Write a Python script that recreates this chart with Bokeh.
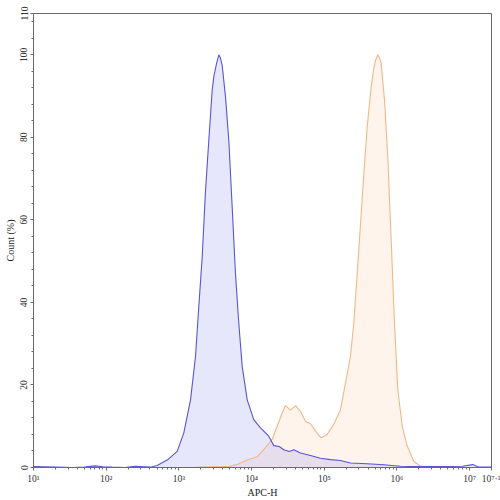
from bokeh.plotting import figure
from bokeh.models import FixedTicker, CustomJSTickFormatter, Range1d
from bokeh.embed import file_html
from bokeh.resources import INLINE

# APC-H intensity (x) and Count (%) for the two histograms
blue_x = [10, 20, 35, 50, 70, 90, 120, 180, 250, 330, 420, 502, 690, 948, 1168,
          1445, 1692, 1879, 2091, 2322, 2579, 2870, 3040, 3289, 3538, 3730, 3942,
          4377, 4858, 5404, 6000, 6663, 7425, 8700, 10720, 13250, 17250, 20200,
          24000, 27700, 33000, 38000, 47100, 64600, 88700, 121700, 167000, 229000,
          389000, 658000, 1117000, 1900000, 4000000, 8000000, 11000000, 13000000,
          16000000, 19950000]
blue_y = [0.2, 0.1, 0.0, 0.1, 0.4, 0.2, 0.1, 0.0, 0.3, 0.2, 0.1, 0.5, 1.8, 3.9, 8.4,
          16.4, 26.9, 39, 51, 67, 79.3, 91.4, 95.0, 97.8, 100, 99.2, 97.4,
          89.8, 79.3, 63.2, 47, 35, 24.5, 16.4, 11.6, 9.6, 7.6, 5.3,
          5.1, 4.3, 3.9, 4.3, 3.5, 2.9, 2.25, 1.9, 1.7, 1.1,
          0.9, 0.65, 0.3, 0.2, 0.2, 0.3, 0.7, 0.2,
          0.1, 0.1]

orange_x = [10, 1500, 2450, 4610, 6340, 8700, 11940, 15530, 19200, 22500, 26350,
            29250, 34300, 40200, 47100, 55100, 64600, 75700, 90600, 109600,
            135200, 167000, 195800, 229000, 254500, 283600, 315000, 349500,
            389000, 441500, 475000, 505800, 544500, 574000, 606500, 673500,
            747000, 832000, 924000, 1026000, 1180000, 1382000, 1703000, 2104000,
            2600000, 19950000]
orange_y = [0, 0, 0.15, 0.2, 0.7, 1.8, 2.6, 4.8, 6.8, 10, 13.2,
            15, 13.9, 15, 13.6, 11.2, 10.6, 8.8, 7.2, 8,
            10.5, 14, 20.5, 26.9, 35, 47, 59, 71,
            82.5, 92.2, 96.3, 98.6, 100, 99.3, 97.8, 89,
            75.3, 55, 35, 18.9, 10, 5.2, 1.5, 0.3,
            0, 0]

x_major = [1e1, 1e2, 1e3, 1e4, 1e5, 1e6, 1e7, 10 ** 7.3]
x_minor = [k * 10 ** d for d in range(1, 7) for k in range(2, 10)]
y_major = [0, 20, 40, 60, 80, 100, 110]
y_minor = [v for v in range(4, 110, 4) if v not in y_major]

FONT = "Liberation Serif"

p = figure(width=500, height=500, x_axis_type="log",
           x_range=Range1d(10, 10 ** 7.3), y_range=Range1d(0, 110),
           output_backend="svg", toolbar_location=None,
           min_border_left=33, min_border_right=9, min_border_top=13,
           min_border_bottom=32)

p.xgrid.visible = False
p.ygrid.visible = False
p.outline_line_color = "#6a6a6a"
p.outline_line_width = 1
p.background_fill_color = "white"
p.border_fill_color = "white"

# fills
p.varea(x=orange_x, y1=0, y2=orange_y, fill_color="#f5a860", fill_alpha=0.12)
p.varea(x=blue_x, y1=0, y2=blue_y, fill_color="#7070f0", fill_alpha=0.17)
# lines
p.line(orange_x, orange_y, line_color="#f0b888", line_width=1.1)
p.line(blue_x, blue_y, line_color="#5555d6", line_width=1.1)

p.xaxis.ticker = FixedTicker(ticks=x_major, minor_ticks=x_minor)
p.xaxis.formatter = CustomJSTickFormatter(code="""
const sup = {"0":"\u2070","1":"\u00b9","2":"\u00b2","3":"\u00b3","4":"\u2074",
             "5":"\u2075","6":"\u2076","7":"\u2077","8":"\u2078","9":"\u2079",".":"\u00b7"};
const e = Math.round(Math.log10(tick) * 10) / 10;
return "10" + String(e).split("").map(c => sup[c]).join("");
""")
p.yaxis.ticker = FixedTicker(ticks=y_major, minor_ticks=y_minor)
p.yaxis.major_label_orientation = "vertical"

p.xaxis.axis_label = "APC-H"
p.yaxis.axis_label = "Count (%)"

for ax in (p.xaxis, p.yaxis):
    ax.axis_line_color = "#6a6a6a"
    ax.major_tick_line_color = "#6a6a6a"
    ax.minor_tick_line_color = "#6a6a6a"
    ax.major_tick_out = 3
    ax.major_tick_in = 0
    ax.minor_tick_out = 2
    ax.minor_tick_in = 0
    ax.major_label_text_font = FONT
    ax.major_label_text_font_size = "9.5px"
    ax.major_label_text_color = "#333333"
    ax.axis_label_text_font = FONT
    ax.axis_label_text_font_size = "10px"
    ax.axis_label_text_font_style = "normal"
    ax.axis_label_text_color = "#222222"

p.xaxis.major_label_standoff = 3
p.xaxis.axis_label_standoff = 0
p.yaxis.major_label_standoff = 3
p.yaxis.axis_label_standoff = 2

open("out.html", "w").write(file_html(p, INLINE))
